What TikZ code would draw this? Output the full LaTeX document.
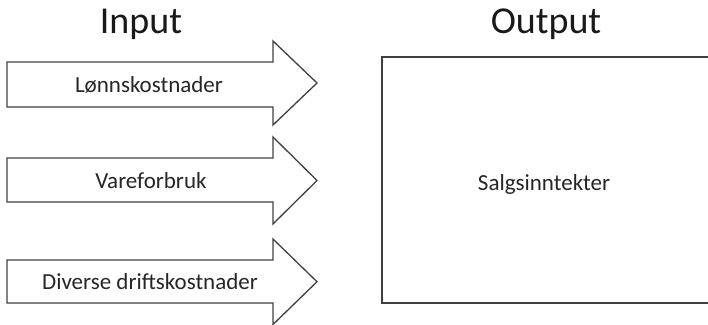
\documentclass[tikz,border=0pt]{standalone}
\usepackage{fontspec}
\setmainfont{Carlito}
\begin{document}
\begin{tikzpicture}[x=1pt,y=-1pt,
  shapeline/.style={draw=black!75, line width=1.3pt, line join=miter, fill=white},
  title/.style={font=\fontsize{38}{42}\selectfont, text=black!90, inner sep=0pt},
  label/.style={font=\fontsize{23}{26}\selectfont, text=black!85, inner sep=0pt}]
\useasboundingbox (0,0) rectangle (708,324);
% arrows
\foreach \t/\b/\ht/\hb in {62/107/41/125, 158/202/137/224, 260/303/239/324.5}{
  \pgfmathsetmacro{\mid}{(\ht+\hb)/2}
  \draw[shapeline] (7,\t) -- (273,\t) -- (273,\ht) -- (317,\mid) -- (273,\hb) -- (273,\b) -- (7,\b) -- cycle;
}
% output box
\draw[shapeline] (382,57) rectangle (708.5,303);
% texts
\node[title, anchor=base] (in) at (141,33) {Input};
\node[title, anchor=base] (out) at (546,33) {Output};
\node[label] (l1) at (149,84.5) {Lønnskostnader};
\node[label] (l2) at (151,181) {Vareforbruk};
\node[label] (l3) at (150,282) {Diverse driftskostnader};
\node[label] (s) at (544,184) {Salgsinntekter};
\end{tikzpicture}
\end{document}
